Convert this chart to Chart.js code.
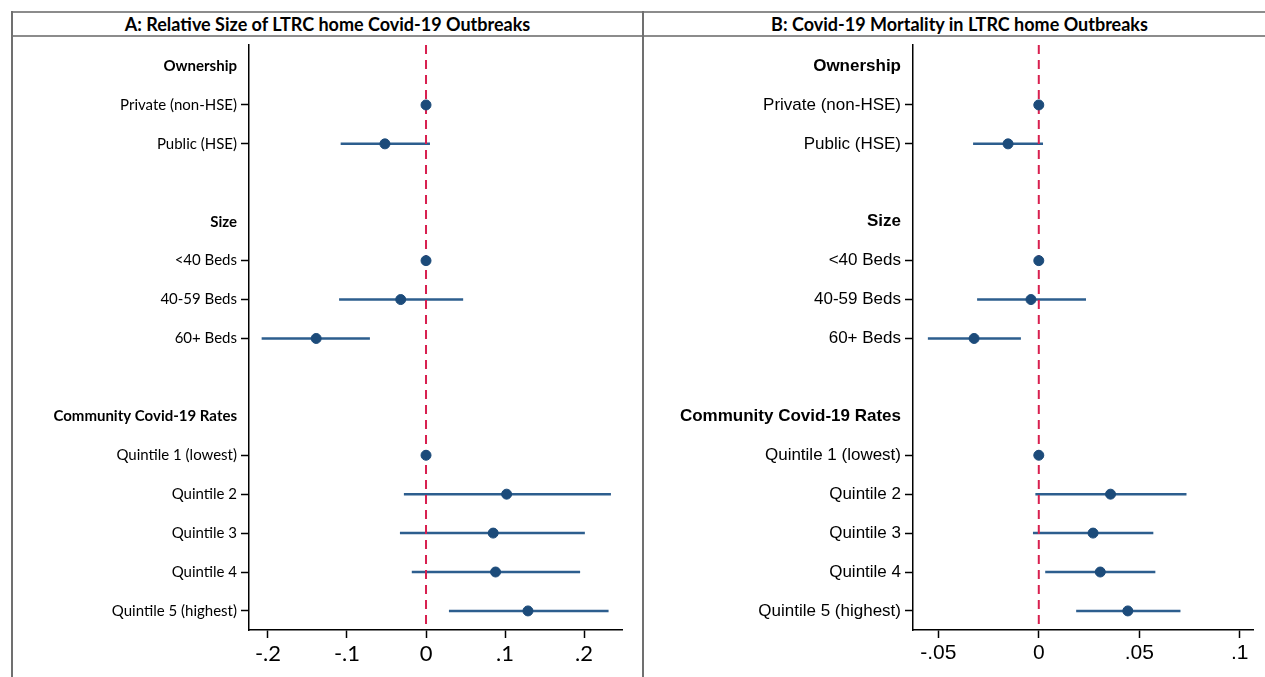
<!DOCTYPE html>
<html>
<head>
<meta charset="utf-8">
<script src="https://cdn.jsdelivr.net/npm/chart.js@4.4.0/dist/chart.umd.min.js"></script>
<style>
    body { margin: 0; background: #fff; width: 1265px; height: 677px; overflow: hidden; position: relative; }
    .hline { position: absolute; left: 11px; width: 1254px; height: 0; border-top: 2px solid #8c8c8c; }
    .vline { position: absolute; top: 11px; bottom: 0; width: 0; border-left: 2px solid #707070; }
    .title { position: absolute; top: 13px; height: 22px; line-height: 22px; text-align: center;
             font-family: Lato, sans-serif; font-weight: bold; font-size: 18px; color: #000; }
    canvas { position: absolute; }
</style>
</head>
<body>
<div class="hline" style="top:11px"></div>
<div class="hline" style="top:35px"></div>
<div class="vline" style="left:11px"></div>
<div class="vline" style="left:642px"></div>
<div class="title" style="left:13px;width:629px">A: Relative Size of LTRC home Covid-19 Outbreaks</div>
<div class="title" style="left:654px;width:611px">B: Covid-19 Mortality in LTRC home Outbreaks</div>
<canvas id="chartA" style="left:12px;top:36px" width="631" height="641"></canvas>
<canvas id="chartB" style="left:644px;top:36px" width="621" height="641"></canvas>
<script>
// rows of the coefficient plot, top to bottom
var rowLabels = ['Ownership', 'Private (non-HSE)', 'Public (HSE)', '', 'Size', '<40 Beds', '40-59 Beds', '60+ Beds', '',
    'Community Covid-19 Rates', 'Quintile 1 (lowest)', 'Quintile 2', 'Quintile 3', 'Quintile 4', 'Quintile 5 (highest)'];
var headerRows = ['Ownership', 'Size', 'Community Covid-19 Rates'];
var estRows = [1, 2, 5, 6, 7, 10, 11, 12, 13, 14];

// Panel A: relative size of outbreaks
var sizeEst = [0, -0.052, 0, -0.032, -0.139, 0, 0.102, 0.085, 0.088, 0.129];
var sizeLo = [null, -0.108, null, -0.110, -0.208, null, -0.028, -0.033, -0.018, 0.029];
var sizeHi = [null, 0.005, null, 0.047, -0.071, null, 0.234, 0.201, 0.195, 0.231];

// Panel B: mortality in outbreaks
var mortEst = [0, -0.0153, 0, -0.0039, -0.0322, 0, 0.0357, 0.027, 0.0306, 0.0443];
var mortLo = [null, -0.0327, null, -0.0307, -0.0552, null, -0.0017, -0.0029, 0.0032, 0.0186];
var mortHi = [null, 0.0021, null, 0.0235, -0.0089, null, 0.0735, 0.057, 0.058, 0.0705];

var ticksA = [-0.2, -0.1, 0, 0.1, 0.2];
var ticksB = [-0.05, 0, 0.05, 0.1];

var yMin = -0.54, yMax = 14.49;

function fmtTick(v) {
    if (v === 0) return '0';
    return (v < 0 ? '-' : '') + String(Math.abs(v)).replace(/^0/, '');
}

function makePanel(id, est, lo, hi, xMin, xMax, xTicks, fam, labelSize, tickSize, yWidth, padRight) {
    var datasets = [];
    // confidence intervals
    estRows.forEach(function(r, i) {
        if (lo[i] === null) return;
        datasets.push({
            type: 'scatter', showLine: true, order: 2,
            data: [{x: lo[i], y: r}, {x: hi[i], y: r}],
            borderColor: '#2d5e8e', borderWidth: 2.5, pointRadius: 0
        });
    });
    // reference line at zero
    datasets.push({
        type: 'scatter', showLine: true, order: 1,
        data: [{x: 0, y: yMin}, {x: 0, y: yMax}],
        borderColor: '#d8204f', borderWidth: 2, borderDash: [9, 6], pointRadius: 0
    });
    // point estimates
    datasets.push({
        type: 'scatter', order: 0,
        data: estRows.map(function(r, i) { return {x: est[i], y: r}; }),
        backgroundColor: '#1c4b7a', borderColor: '#1c4b7a', pointRadius: 5
    });

    new Chart(document.getElementById(id), {
        type: 'scatter',
        data: { datasets: datasets },
        options: {
            responsive: false,
            animation: false,
            layout: { padding: { top: 9, right: padRight, left: 0, bottom: 0 } },
            plugins: { legend: { display: false }, tooltip: { enabled: false } },
            scales: {
                x: {
                    type: 'linear', min: xMin, max: xMax,
                    afterBuildTicks: function(s) { s.ticks = xTicks.map(function(v) { return {value: v}; }); },
                    afterFit: function(s) { s.height = 47; s.paddingLeft = 0; s.paddingRight = 0; },
                    ticks: { callback: fmtTick, font: { family: fam, size: tickSize }, color: '#000', padding: 3, maxRotation: 0 },
                    grid: { drawOnChartArea: false, tickLength: 8, tickColor: '#000', tickWidth: 1.5 },
                    border: { color: '#000', width: 1.5 }
                },
                y: {
                    type: 'linear', reverse: true, min: yMin, max: yMax,
                    afterBuildTicks: function(s) { s.ticks = rowLabels.map(function(l, i) { return {value: i}; }); },
                    afterFit: function(s) { s.width = yWidth; s.paddingTop = 0; s.paddingBottom = 0; },
                    ticks: {
                        autoSkip: false, color: '#000', padding: 4,
                        callback: function(v, i) { return rowLabels[i]; },
                        font: function(ctx) {
                            var isHead = headerRows.indexOf(rowLabels[ctx.index]) >= 0;
                            return { family: fam, size: labelSize, weight: isHead ? 'bold' : 'normal' };
                        }
                    },
                    grid: {
                        drawOnChartArea: false, tickLength: 8, tickWidth: 1.5,
                        tickColor: function(ctx) {
                            var l = rowLabels[ctx.index];
                            return (l === '' || headerRows.indexOf(l) >= 0) ? 'rgba(0,0,0,0)' : '#000';
                        }
                    },
                    border: { color: '#000', width: 1.5 }
                }
            }
        }
    });
}

makePanel('chartA', sizeEst, sizeLo, sizeHi, -0.224, 0.248, ticksA, 'Lato', 15, 22, 237, 21);
makePanel('chartB', mortEst, mortLo, mortHi, -0.0626, 0.1066, ticksB, 'Liberation Sans', 17, 21, 269, 12);
</script>
</body>
</html>
